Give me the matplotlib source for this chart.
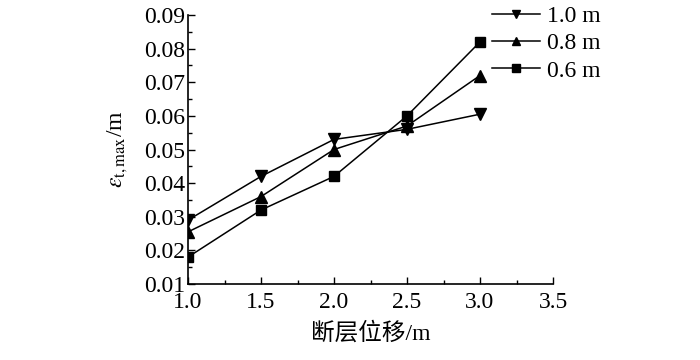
import matplotlib
matplotlib.use("Agg")
import matplotlib.pyplot as plt
from matplotlib.ticker import MultipleLocator

plt.rcParams['font.family'] = ['Liberation Serif', 'Noto Sans CJK SC']
plt.rcParams['mathtext.fontset'] = 'stix'

x = [1.0, 1.5, 2.0, 2.5, 3.0]
s10 = [0.029, 0.042, 0.053, 0.056, 0.0605]
s08 = [0.0255, 0.036, 0.050, 0.057, 0.072]
s06 = [0.018, 0.032, 0.042, 0.060, 0.082]
labels = ['1.0 m', '0.8 m', '0.6 m']
xlabel = '断层位移/m'
ylabel = r'$\varepsilon_{\mathrm{t,max}}$/m'

fig = plt.figure(figsize=(7, 3.6), dpi=100)
ax = fig.add_axes([188/700, 1-284/360, (553-188)/700, (284-15)/360])

ax.plot(x, s10, color='black', lw=1.1, marker='v', ms=8, label=labels[0])
ax.plot(x, s08, color='black', lw=1.1, marker='^', ms=8, label=labels[1])
ax.plot(x, s06, color='black', lw=1.1, marker='s', ms=7, label=labels[2])

ax.set_xlim(1.0, 3.5)
ax.set_ylim(0.01, 0.09)
ax.xaxis.set_major_locator(MultipleLocator(0.5))
ax.xaxis.set_minor_locator(MultipleLocator(0.25))
ax.yaxis.set_major_locator(MultipleLocator(0.01))
ax.yaxis.set_minor_locator(MultipleLocator(0.005))
ax.xaxis.set_major_formatter(plt.FormatStrFormatter('%.1f'))
ax.yaxis.set_major_formatter(plt.FormatStrFormatter('%.2f'))
ax.spines['top'].set_visible(False)
ax.spines['right'].set_visible(False)
for sp in ('left', 'bottom'):
    ax.spines[sp].set_linewidth(1.2)
ax.tick_params(which='both', direction='in', width=1.0, labelsize=17)
ax.tick_params(axis='x', which='major', pad=6)
ax.tick_params(axis='y', which='major', pad=2)
ax.tick_params(which='major', length=5)
ax.tick_params(which='minor', length=3)

ax.set_xlabel(xlabel, fontsize=17, labelpad=6)
ax.set_ylabel(ylabel, fontsize=17, labelpad=10)

fig.legend(loc='upper left', bbox_to_anchor=(490/700, 1 - 3/360), frameon=False,
           fontsize=17, handlelength=2.0, handletextpad=0.3, labelspacing=0.25,
           borderaxespad=0, borderpad=0.1, markerscale=0.75)

fig.savefig('out.png', dpi=100)
